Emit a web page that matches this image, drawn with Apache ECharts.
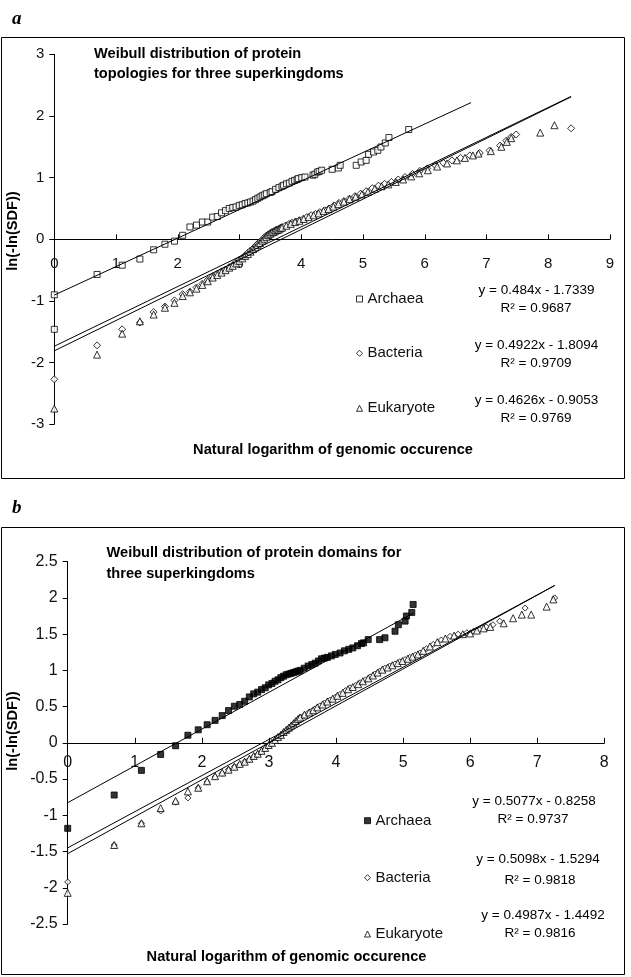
<!DOCTYPE html>
<html><head><meta charset="utf-8">
<script src="https://cdn.jsdelivr.net/npm/echarts@6/dist/echarts.min.js"></script>
<style>html,body{margin:0;padding:0;background:#fff}#c{width:631px;height:977px}</style>
</head><body><div id="c"></div>
<script>
// ---------- Panel a: protein topologies ----------
const aArchaea = [[0,-0.90],[0,-1.46],[0.693,-0.57],[1.099,-0.42],[1.386,-0.32],[1.609,-0.17],[1.792,-0.08],[1.946,-0.03],[2.079,0.065],[2.197,0.20],[2.303,0.23],[2.398,0.28],[2.485,0.28],[2.565,0.36],[2.639,0.37],[2.708,0.43],[2.773,0.465],[2.833,0.50],[2.890,0.515],[2.944,0.525],[2.996,0.55],[3.045,0.56],[3.091,0.58],[3.135,0.59],[3.178,0.605],[3.219,0.62],[3.258,0.643],[3.296,0.665],[3.332,0.686],[3.367,0.705],[3.401,0.72],[3.434,0.74],[3.497,0.76],[3.526,0.773],[3.584,0.81],[3.638,0.838],[3.689,0.86],[3.714,0.876],[3.761,0.90],[3.807,0.913],[3.850,0.94],[3.892,0.955],[3.932,0.968],[3.951,0.985],[4.007,1.0],[4.060,1.01],[4.19,1.04],[4.22,1.054],[4.26,1.09],[4.29,1.10],[4.33,1.12],[4.50,1.135],[4.60,1.156],[4.63,1.20],[4.89,1.20],[4.97,1.254],[5.05,1.28],[5.09,1.378],[5.17,1.416],[5.24,1.443],[5.29,1.497],[5.36,1.562],[5.42,1.65],[5.74,1.78]];
const aBacteria = [[0,-2.27],[0.693,-1.72],[1.099,-1.46],[1.386,-1.35],[1.609,-1.18],[1.792,-1.09],[1.946,-0.99],[2.079,-0.89],[2.197,-0.85],[2.303,-0.78],[2.398,-0.72],[2.485,-0.66],[2.565,-0.60],[2.639,-0.56],[2.708,-0.52],[2.773,-0.49],[2.833,-0.45],[2.890,-0.42],[2.944,-0.37],[2.996,-0.33],[3.045,-0.30],[3.091,-0.26],[3.135,-0.22],[3.178,-0.18],[3.219,-0.15],[3.258,-0.11],[3.296,-0.07],[3.332,-0.04],[3.367,-0.01],[3.401,0.03],[3.434,0.06],[3.466,0.08],[3.497,0.10],[3.526,0.12],[3.555,0.13],[3.584,0.15],[3.611,0.16],[3.638,0.17],[3.664,0.19],[3.689,0.20],[3.74,0.22],[3.80,0.25],[3.85,0.27],[3.91,0.29],[3.97,0.31],[4.03,0.33],[4.09,0.36],[4.16,0.39],[4.23,0.41],[4.30,0.44],[4.38,0.47],[4.45,0.50],[4.53,0.55],[4.61,0.59],[4.69,0.62],[4.78,0.66],[4.87,0.70],[4.96,0.74],[5.05,0.78],[5.15,0.83],[5.25,0.87],[5.35,0.90],[5.46,0.93],[5.57,0.97],[5.68,1.01],[5.80,1.06],[5.92,1.11],[6.04,1.15],[6.17,1.20],[6.30,1.24],[6.44,1.28],[6.58,1.32],[6.73,1.36],[6.89,1.40],[7.05,1.44],[7.22,1.52],[7.32,1.60],[7.40,1.66],[7.48,1.70],[8.37,1.80]];
const aEukaryote = [[0,-2.745],[0.693,-1.87],[1.099,-1.53],[1.386,-1.33],[1.609,-1.22],[1.792,-1.11],[1.946,-1.03],[2.079,-0.92],[2.197,-0.86],[2.303,-0.80],[2.398,-0.74],[2.485,-0.68],[2.565,-0.62],[2.639,-0.58],[2.708,-0.54],[2.773,-0.50],[2.833,-0.46],[2.890,-0.43],[2.944,-0.39],[2.996,-0.35],[3.045,-0.31],[3.091,-0.27],[3.135,-0.24],[3.178,-0.20],[3.219,-0.16],[3.258,-0.13],[3.296,-0.09],[3.332,-0.06],[3.367,-0.02],[3.401,0.01],[3.434,0.04],[3.466,0.07],[3.497,0.09],[3.526,0.11],[3.555,0.12],[3.584,0.14],[3.611,0.15],[3.638,0.16],[3.664,0.18],[3.689,0.19],[3.76,0.22],[3.83,0.25],[3.90,0.28],[3.97,0.30],[4.04,0.33],[4.12,0.36],[4.20,0.39],[4.28,0.42],[4.36,0.46],[4.44,0.49],[4.52,0.53],[4.60,0.57],[4.69,0.61],[4.78,0.65],[4.88,0.69],[4.98,0.73],[5.08,0.77],[5.19,0.82],[5.30,0.86],[5.41,0.89],[5.53,0.93],[5.65,0.97],[5.78,1.02],[5.91,1.07],[6.05,1.12],[6.20,1.18],[6.36,1.23],[6.52,1.28],[6.65,1.32],[6.78,1.36],[6.87,1.39],[7.07,1.43],[7.24,1.50],[7.33,1.58],[7.40,1.64],[7.87,1.73],[8.10,1.85]];
const aFitArchaea = [[0,-0.905],[6.75,2.217]];
const aFitBacteria = [[0,-1.809],[8.37,2.310]];
const aFitEukaryote = [[0,-1.734],[8.37,2.317]];
const aXTicks = [0,1,2,3,4,5,6,7,8,9];
const aYTicks = [-3,-2,-1,0,1,2,3];
const aTitle = 'Weibull distribution of protein\ntopologies for three superkingdoms';
const aEquations = ['y = 0.484x - 1.7339','y = 0.4922x - 1.8094','y = 0.4626x - 0.9053'];
const aR2 = ['R\u00B2 = 0.9687','R\u00B2 = 0.9709','R\u00B2 = 0.9769'];

// ---------- Panel b: protein domains ----------
const bArchaea = [[0,-1.18],[0.693,-0.72],[1.099,-0.38],[1.386,-0.16],[1.609,-0.04],[1.792,0.105],[1.946,0.18],[2.079,0.25],[2.197,0.31],[2.303,0.376],[2.398,0.445],[2.485,0.505],[2.565,0.53],[2.639,0.574],[2.708,0.634],[2.773,0.676],[2.833,0.70],[2.890,0.735],[2.944,0.76],[2.996,0.80],[3.045,0.82],[3.091,0.85],[3.135,0.87],[3.178,0.90],[3.219,0.92],[3.258,0.94],[3.296,0.95],[3.332,0.96],[3.367,0.97],[3.401,0.98],[3.434,0.99],[3.466,1.00],[3.526,1.03],[3.584,1.06],[3.638,1.08],[3.689,1.10],[3.738,1.13],[3.784,1.16],[3.829,1.17],[3.871,1.18],[3.932,1.20],[3.989,1.22],[4.060,1.24],[4.127,1.27],[4.19,1.29],[4.25,1.31],[4.32,1.34],[4.38,1.37],[4.41,1.38],[4.48,1.425],[4.65,1.425],[4.73,1.45],[4.88,1.54],[4.93,1.63],[5.03,1.68],[5.05,1.75],[5.13,1.80],[5.15,1.91]];
const bBacteria = [[0,-1.92],[0.693,-1.41],[1.099,-1.11],[1.386,-0.94],[1.609,-0.82],[1.792,-0.76],[1.946,-0.62],[2.079,-0.54],[2.197,-0.47],[2.303,-0.42],[2.398,-0.37],[2.485,-0.33],[2.565,-0.30],[2.639,-0.26],[2.708,-0.23],[2.773,-0.19],[2.833,-0.16],[2.890,-0.12],[2.944,-0.08],[2.996,-0.04],[3.045,-0.01],[3.091,0.03],[3.135,0.07],[3.178,0.10],[3.219,0.14],[3.258,0.17],[3.296,0.20],[3.332,0.23],[3.367,0.26],[3.401,0.29],[3.434,0.32],[3.466,0.35],[3.526,0.38],[3.584,0.41],[3.638,0.44],[3.689,0.47],[3.76,0.51],[3.83,0.55],[3.91,0.59],[3.99,0.63],[4.06,0.67],[4.14,0.72],[4.21,0.76],[4.29,0.79],[4.36,0.83],[4.44,0.87],[4.51,0.91],[4.58,0.95],[4.65,0.99],[4.73,1.03],[4.80,1.06],[4.88,1.09],[4.95,1.12],[5.03,1.15],[5.10,1.18],[5.18,1.21],[5.25,1.24],[5.35,1.30],[5.45,1.36],[5.57,1.42],[5.70,1.47],[5.82,1.50],[5.95,1.52],[6.05,1.54],[6.14,1.56],[6.24,1.60],[6.34,1.63],[6.44,1.68],[6.82,1.86],[7.26,2.00]];
const bEukaryote = [[0,-2.07],[0.693,-1.41],[1.099,-1.11],[1.386,-0.90],[1.609,-0.80],[1.792,-0.67],[1.946,-0.62],[2.079,-0.53],[2.197,-0.46],[2.303,-0.41],[2.398,-0.37],[2.485,-0.33],[2.565,-0.29],[2.639,-0.26],[2.708,-0.22],[2.773,-0.18],[2.833,-0.15],[2.890,-0.11],[2.944,-0.07],[2.996,-0.03],[3.045,0.0],[3.091,0.04],[3.135,0.08],[3.178,0.11],[3.219,0.15],[3.258,0.18],[3.296,0.21],[3.332,0.24],[3.367,0.27],[3.401,0.30],[3.434,0.33],[3.466,0.35],[3.53,0.39],[3.60,0.42],[3.66,0.45],[3.72,0.49],[3.80,0.53],[3.87,0.57],[3.95,0.61],[4.02,0.65],[4.10,0.69],[4.18,0.74],[4.25,0.77],[4.33,0.81],[4.40,0.85],[4.48,0.89],[4.55,0.93],[4.62,0.97],[4.69,1.01],[4.77,1.04],[4.84,1.07],[4.92,1.10],[4.99,1.13],[5.07,1.16],[5.14,1.19],[5.22,1.22],[5.30,1.27],[5.40,1.33],[5.51,1.39],[5.63,1.44],[5.76,1.48],[5.89,1.50],[6.00,1.51],[6.10,1.55],[6.20,1.58],[6.30,1.60],[6.50,1.65],[6.64,1.72],[6.77,1.77],[6.91,1.77],[7.14,1.88],[7.24,1.98]];
const bFitArchaea = [[0,-0.826],[5.15,1.789]];
const bFitBacteria = [[0,-1.529],[7.26,2.172]];
const bFitEukaryote = [[0,-1.449],[7.26,2.171]];
const bXTicks = [0,1,2,3,4,5,6,7,8];
const bYTicks = [-2.5,-2,-1.5,-1,-0.5,0,0.5,1,1.5,2,2.5];
const bTitle = 'Weibull distribution of protein domains for\nthree superkingdoms';
const bEquations = ['y = 0.5077x - 0.8258','y = 0.5098x - 1.5294','y = 0.4987x - 1.4492'];
const bR2 = ['R\u00B2 = 0.9737','R\u00B2 = 0.9818','R\u00B2 = 0.9816'];

const seriesNames = ['Archaea','Bacteria','Eukaryote'];
const yAxisTitle = 'ln(-ln(SDF))';
const xAxisTitle = 'Natural logarithm of genomic occurence';

// ---------- styling ----------
const FONT = '"Liberation Sans", Arial, sans-serif';
const hollow = {color:'#fff', borderColor:'#000', borderWidth:1};
const filled = {color:'#000', borderColor:'#000', borderWidth:1};

// x axis drawn at y = 0: shifted up from the grid bottom by the zero position of the y scale
function xAxisOpt(grid, ticks, yTicks, plotH, fs, margin){
  const yMin = yTicks[0], yMax = yTicks[yTicks.length-1];
  const zeroOffset = -plotH * (0 - yMin) / (yMax - yMin);
  return {type:'value', gridIndex:grid, position:'bottom', offset:zeroOffset,
    min:ticks[0], max:ticks[ticks.length-1], interval:ticks[1]-ticks[0],
    axisLine:{show:true, onZero:false, lineStyle:{color:'#000', width:1}},
    axisTick:{show:true, inside:true, length:5, lineStyle:{color:'#000'}},
    axisLabel:{margin:margin, fontSize:fs, color:'#111', fontFamily:FONT},
    splitLine:{show:false}};
}
function yAxisOpt(grid, ticks, fs){
  return {type:'value', gridIndex:grid, min:ticks[0], max:ticks[ticks.length-1], interval:ticks[1]-ticks[0],
    axisLine:{show:true, onZero:false, lineStyle:{color:'#000', width:1}},
    axisTick:{show:true, inside:false, length:5, lineStyle:{color:'#000'}},
    axisLabel:{margin:10, fontSize:fs, color:'#111', fontFamily:FONT},
    splitLine:{show:false}};
}
function scatter(idx, name, data, symbol, size, style){
  return {type:'scatter', name:name, xAxisIndex:idx, yAxisIndex:idx, data:data, symbol:symbol, symbolSize:size,
    itemStyle:style, z:3, silent:true};
}
function fit(idx, data){
  return {type:'line', xAxisIndex:idx, yAxisIndex:idx, data:data, symbol:'none', showSymbol:false,
    lineStyle:{color:'#000', width:1}, z:4, silent:true};
}
function legendItem(left, top, name, icon, style){
  return {left:left, top:top, orient:'vertical', itemWidth:6, itemHeight:6, selectedMode:false,
    textStyle:{fontSize:15, color:'#111', fontFamily:FONT},
    data:[{name:name, icon:icon, itemStyle:style}]};
}
function txt(x, y, text, font, align, extra){
  return Object.assign({type:'text', x:x, y:y, silent:true,
    style:{text:text, font:font, fill:'#000', align:align||'left', verticalAlign:'middle'}}, extra||{});
}

const bold = 'bold 14.6px ' + FONT;
const eqFont = '13.5px ' + FONT;
const graphics = [
  {type:'rect', shape:{x:1.5, y:37.5, width:623, height:441}, style:{fill:'none', stroke:'#000', lineWidth:1}, silent:true},
  {type:'rect', shape:{x:1.5, y:527.5, width:623, height:447}, style:{fill:'none', stroke:'#000', lineWidth:1}, silent:true},
  txt(12, 19.5, 'a', 'bold italic 19px "Liberation Serif", serif'),
  txt(12, 508.5, 'b', 'bold italic 19px "Liberation Serif", serif'),
  {type:'text', x:94, y:44, silent:true, style:{text:aTitle, font:bold, fill:'#000', lineHeight:20, verticalAlign:'top'}},
  {type:'text', x:106.5, y:542.5, silent:true, style:{text:bTitle, font:bold, fill:'#000', lineHeight:21, verticalAlign:'top'}},
  txt(333, 450, xAxisTitle, bold, 'center'),
  txt(286.5, 956.5, xAxisTitle, bold, 'center'),
  txt(13, 231, yAxisTitle, bold, 'center', {rotation:Math.PI/2}),
  txt(13, 731, yAxisTitle, bold, 'center', {rotation:Math.PI/2})
];
const aEqY = [290, 345, 400], aR2Y = [308.3, 363.3, 418.3];
const bEqY = [801.7, 859.3, 915], bR2Y = [819.3, 880.7, 933.3];
const bEqX = [534, 538, 543], bR2X = [533, 540, 540];
for (let i = 0; i < 3; i++) {
  graphics.push(txt(536.5, aEqY[i], aEquations[i], eqFont, 'center'));
  graphics.push(txt(536, aR2Y[i], aR2[i], eqFont, 'center'));
  graphics.push(txt(bEqX[i], bEqY[i], bEquations[i], eqFont, 'center'));
  graphics.push(txt(bR2X[i], bR2Y[i], bR2[i], eqFont, 'center'));
}

const aPlotH = 370, bPlotH = 362.3;
const option = {
  animation:false,
  backgroundColor:'#fff',
  grid:[
    {left:54.3, top:54.3, width:555.7, height:aPlotH},
    {left:67.7, top:561.7, width:536.6, height:bPlotH}
  ],
  xAxis:[xAxisOpt(0, aXTicks, aYTicks, aPlotH, 15, 17), xAxisOpt(1, bXTicks, bYTicks, bPlotH, 16, 12)],
  yAxis:[yAxisOpt(0, aYTicks, 15), yAxisOpt(1, bYTicks, 16)],
  legend:[
    legendItem(351, 286.5, seriesNames[0], 'rect', hollow),
    legendItem(351, 340.8, seriesNames[1], 'diamond', hollow),
    legendItem(351, 395.8, seriesNames[2], 'triangle', hollow),
    legendItem(359, 808.2, seriesNames[0], 'rect', filled),
    legendItem(359, 865.2, seriesNames[1], 'diamond', hollow),
    legendItem(359, 921.5, seriesNames[2], 'triangle', hollow)
  ],
  series:[
    scatter(0, seriesNames[0], aArchaea, 'rect', 6, hollow),
    scatter(0, seriesNames[1], aBacteria, 'diamond', 7, hollow),
    scatter(0, seriesNames[2], aEukaryote, 'triangle', 7, hollow),
    fit(0, aFitArchaea), fit(0, aFitBacteria), fit(0, aFitEukaryote),
    scatter(1, seriesNames[0], bArchaea, 'rect', 6, filled),
    scatter(1, seriesNames[1], bBacteria, 'diamond', 6, hollow),
    scatter(1, seriesNames[2], bEukaryote, 'triangle', 7, hollow),
    fit(1, bFitArchaea), fit(1, bFitBacteria), fit(1, bFitEukaryote)
  ],
  graphic:graphics
};
const chart = echarts.init(document.getElementById('c'), null, {renderer:'canvas'});
chart.setOption(option);
</script></body></html>
